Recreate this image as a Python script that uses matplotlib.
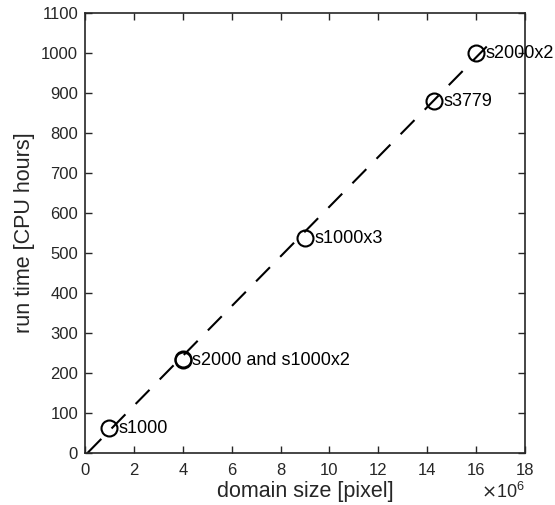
import matplotlib
matplotlib.use("Agg")
import matplotlib.pyplot as plt
from matplotlib.ticker import MultipleLocator, FuncFormatter

plt.rcParams['font.family'] = ['Liberation Sans', 'DejaVu Sans']

# data
domain_size = [1.0e6, 4.0e6, 4.0e6, 9.0e6, 14.28e6, 16.0e6]
run_time = [62, 232, 236, 537, 880, 1000]
labels = ["s1000", "s2000 and s1000x2", None, "s1000x3", "s3779", "s2000x2"]
fit_x = [0.1e6, 16.77e6]
fit_y = [0, 1037]

fig = plt.figure(figsize=(5.55, 5.05), dpi=100)
ax = fig.add_axes([85/555, 52/505, 440/555, 440/505])

ax.plot(fit_x, fit_y, color='black', lw=1.5, dashes=(9.5, 7))
ax.plot(domain_size, run_time, 'o', mfc='none', mec='black', ms=11.5, mew=1.5, zorder=3)
for x, y, t in zip(domain_size, run_time, labels):
    if t:
        ax.annotate(t, (x, y), xytext=(6.5, -0.5), textcoords='offset points',
                    va='center', ha='left', fontsize=13, zorder=4)

ax.set_xlim(0, 18e6)
ax.set_ylim(0, 1100)
ax.xaxis.set_major_locator(MultipleLocator(2e6))
ax.yaxis.set_major_locator(MultipleLocator(100))
ax.xaxis.set_major_formatter(FuncFormatter(lambda v, p: f"{v/1e6:g}"))
ax.tick_params(direction='in', top=True, right=True, length=5, width=1, labelsize=12,
               colors='#262626')
ax.tick_params(axis='x', pad=7)
ax.tick_params(axis='y', pad=5)
for s in ax.spines.values():
    s.set_linewidth(1.2)
    s.set_color('#262626')
ax.set_xlabel("domain size [pixel]", fontsize=15.5, color='#262626', labelpad=2)
ax.set_ylabel("run time [CPU hours]", fontsize=15.5, color='#262626', labelpad=4)
ax.text(1.0, -0.065, r"$\times\mathregular{10^{6}}$", transform=ax.transAxes, ha='right', va='top',
        fontsize=13, color='#262626')

fig.savefig("out.png", dpi=100)
